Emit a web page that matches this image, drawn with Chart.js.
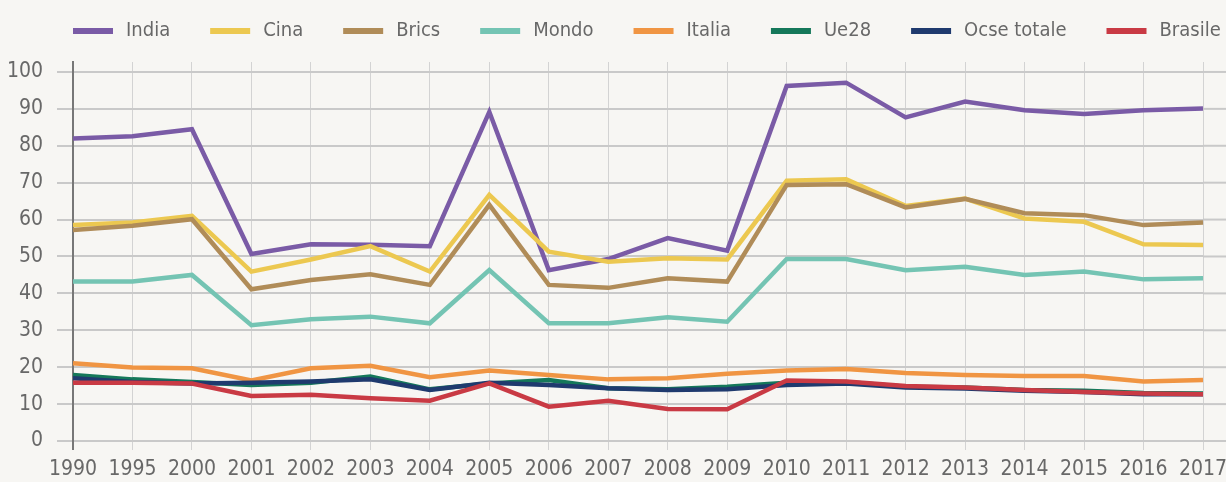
<!DOCTYPE html>
<html>
<head>
<meta charset="utf-8">
<script src="https://cdn.jsdelivr.net/npm/chart.js@4/dist/chart.umd.min.js"></script>
<style>
    html, body { margin: 0; padding: 0; background: #f7f6f3; overflow: hidden; }
    canvas { display: block; }
</style>
</head>
<body>
<canvas id="chart" width="1226" height="482"></canvas>
<script>
const years = ['1990', '1995', '2000', '2001', '2002', '2003', '2004', '2005', '2006', '2007',
    '2008', '2009', '2010', '2011', '2012', '2013', '2014', '2015', '2016', '2017'];

const yTicks = [0, 10, 20, 30, 40, 50, 60, 70, 80, 90, 100];

const seriesNames = ['India', 'Cina', 'Brics', 'Mondo', 'Italia', 'Ue28', 'Ocse totale', 'Brasile'];
const seriesColors = ['#7a5ba6', '#ecc850', '#b08c58', '#74c4b3', '#f09543', '#15785a', '#1f3a6e', '#c93a44'];

const india   = [82, 82.6, 84.5, 50.7, 53.3, 53.2, 52.8, 89.2, 46.3, 49.3, 55, 51.6, 96.2, 97.1, 87.7, 92, 89.6, 88.6, 89.6, 90.1];
const cina    = [58.5, 59.2, 61, 45.9, 49.2, 52.8, 45.9, 66.7, 51.3, 48.6, 49.5, 49.2, 70.5, 70.9, 63.7, 65.7, 60.3, 59.4, 53.3, 53.1];
const brics   = [57.2, 58.3, 60.1, 41.1, 43.6, 45.2, 42.3, 64, 42.3, 41.5, 44.1, 43.2, 69.4, 69.6, 63.3, 65.6, 61.7, 61.2, 58.5, 59.2];
const mondo   = [43.2, 43.2, 45, 31.4, 33, 33.7, 31.9, 46.3, 31.9, 31.9, 33.5, 32.3, 49.3, 49.3, 46.3, 47.2, 45, 45.9, 43.8, 44.1];
const italia  = [21.1, 19.9, 19.7, 16.4, 19.7, 20.4, 17.3, 19.1, 17.9, 16.7, 17, 18.2, 19.1, 19.5, 18.4, 17.9, 17.6, 17.6, 16.1, 16.5];
const ue28    = [17.9, 16.7, 16, 15.2, 15.8, 17.5, 14, 15.6, 16.5, 14.3, 14, 14.7, 15.8, 16, 14.7, 14.5, 13.8, 13.6, 13, 12.9];
const ocse    = [17, 16, 15.6, 15.8, 16.1, 16.7, 13.8, 15.8, 15.2, 14.3, 13.8, 14, 15.2, 15.6, 14.5, 14.2, 13.6, 13.3, 12.7, 12.7];
const brasile = [15.8, 15.8, 15.6, 12.2, 12.5, 11.6, 10.9, 15.6, 9.3, 10.9, 8.7, 8.6, 16.4, 16.1, 14.9, 14.5, 13.8, 13.3, 12.9, 12.7];

const seriesValues = [india, cina, brics, mondo, italia, ue28, ocse, brasile];

const fontFamily = '"Liberation Sans Narrow", "DejaVu Sans Condensed", Roboto, sans-serif';
const textColor = '#686868';
const gridColor = '#c9c9c9';

// legend: short thick line + name, items flowing left to right (runs past the right edge)
const flowLegend = {
    id: 'flowLegend',
    afterDraw(chart) {
        const ctx = chart.ctx;
        ctx.save();
        ctx.font = '20px ' + fontFamily;
        ctx.textBaseline = 'middle';
        let x = chart.chartArea.left;
        const y = 31;
        chart.data.datasets.forEach(ds => {
            ctx.strokeStyle = ds.borderColor;
            ctx.lineWidth = 6;
            ctx.beginPath();
            ctx.moveTo(x, y);
            ctx.lineTo(x + 40, y);
            ctx.stroke();
            ctx.fillStyle = textColor;
            ctx.fillText(ds.label, x + 53, y);
            x += 53 + ctx.measureText(ds.label).width + 40;
        });
        ctx.restore();
    }
};

// horizontal grid keeps going to the right edge of the picture
const gridExtend = {
    id: 'gridExtend',
    beforeDatasetsDraw(chart) {
        const { ctx, chartArea, scales } = chart;
        ctx.save();
        ctx.strokeStyle = gridColor;
        ctx.lineWidth = 2;
        scales.y.ticks.forEach(t => {
            const py = scales.y.getPixelForValue(t.value);
            ctx.beginPath();
            ctx.moveTo(chartArea.right, py);
            ctx.lineTo(chart.width, py);
            ctx.stroke();
        });
        ctx.restore();
    }
};

const datasets = seriesNames.map((name, i) => ({
    label: name,
    data: seriesValues[i],
    borderColor: seriesColors[i],
    backgroundColor: seriesColors[i],
    borderWidth: 4.5,
    pointRadius: 0,
    tension: 0,
    fill: false,
    order: seriesNames.length - 1 - i
}));

new Chart(document.getElementById('chart').getContext('2d'), {
    type: 'line',
    data: { labels: years, datasets: datasets },
    plugins: [gridExtend, flowLegend],
    options: {
        responsive: false,
        animation: false,
        layout: { padding: { top: 62, right: 23, left: 0, bottom: 0 } },
        plugins: {
            legend: { display: false },
            tooltip: { enabled: false }
        },
        scales: {
            x: {
                afterFit: s => {
                    s.height = 41;
                    s.paddingLeft = 0;
                    s.paddingRight = 0;
                },
                grid: {
                    color: c => c.index === 0 ? '#777777' : '#d3d3d3',
                    lineWidth: c => c.index === 0 ? 2 : 1,
                    tickLength: 9
                },
                border: { display: false },
                ticks: {
                    color: textColor,
                    font: { family: fontFamily, size: 21 },
                    padding: 7,
                    maxRotation: 0,
                    autoSkip: false
                }
            },
            y: {
                min: 0,
                max: 102.7,
                afterFit: s => {
                    s.width = 73;
                    s.paddingTop = 0;
                    s.paddingBottom = 0;
                },
                afterBuildTicks: axis => { axis.ticks = yTicks.map(v => ({ value: v })); },
                grid: { color: gridColor, lineWidth: 2, tickLength: 16 },
                border: { display: true, color: '#777777', width: 2 },
                ticks: {
                    color: textColor,
                    font: { family: fontFamily, size: 21 },
                    padding: 14
                }
            }
        }
    }
});
</script>
</body>
</html>
